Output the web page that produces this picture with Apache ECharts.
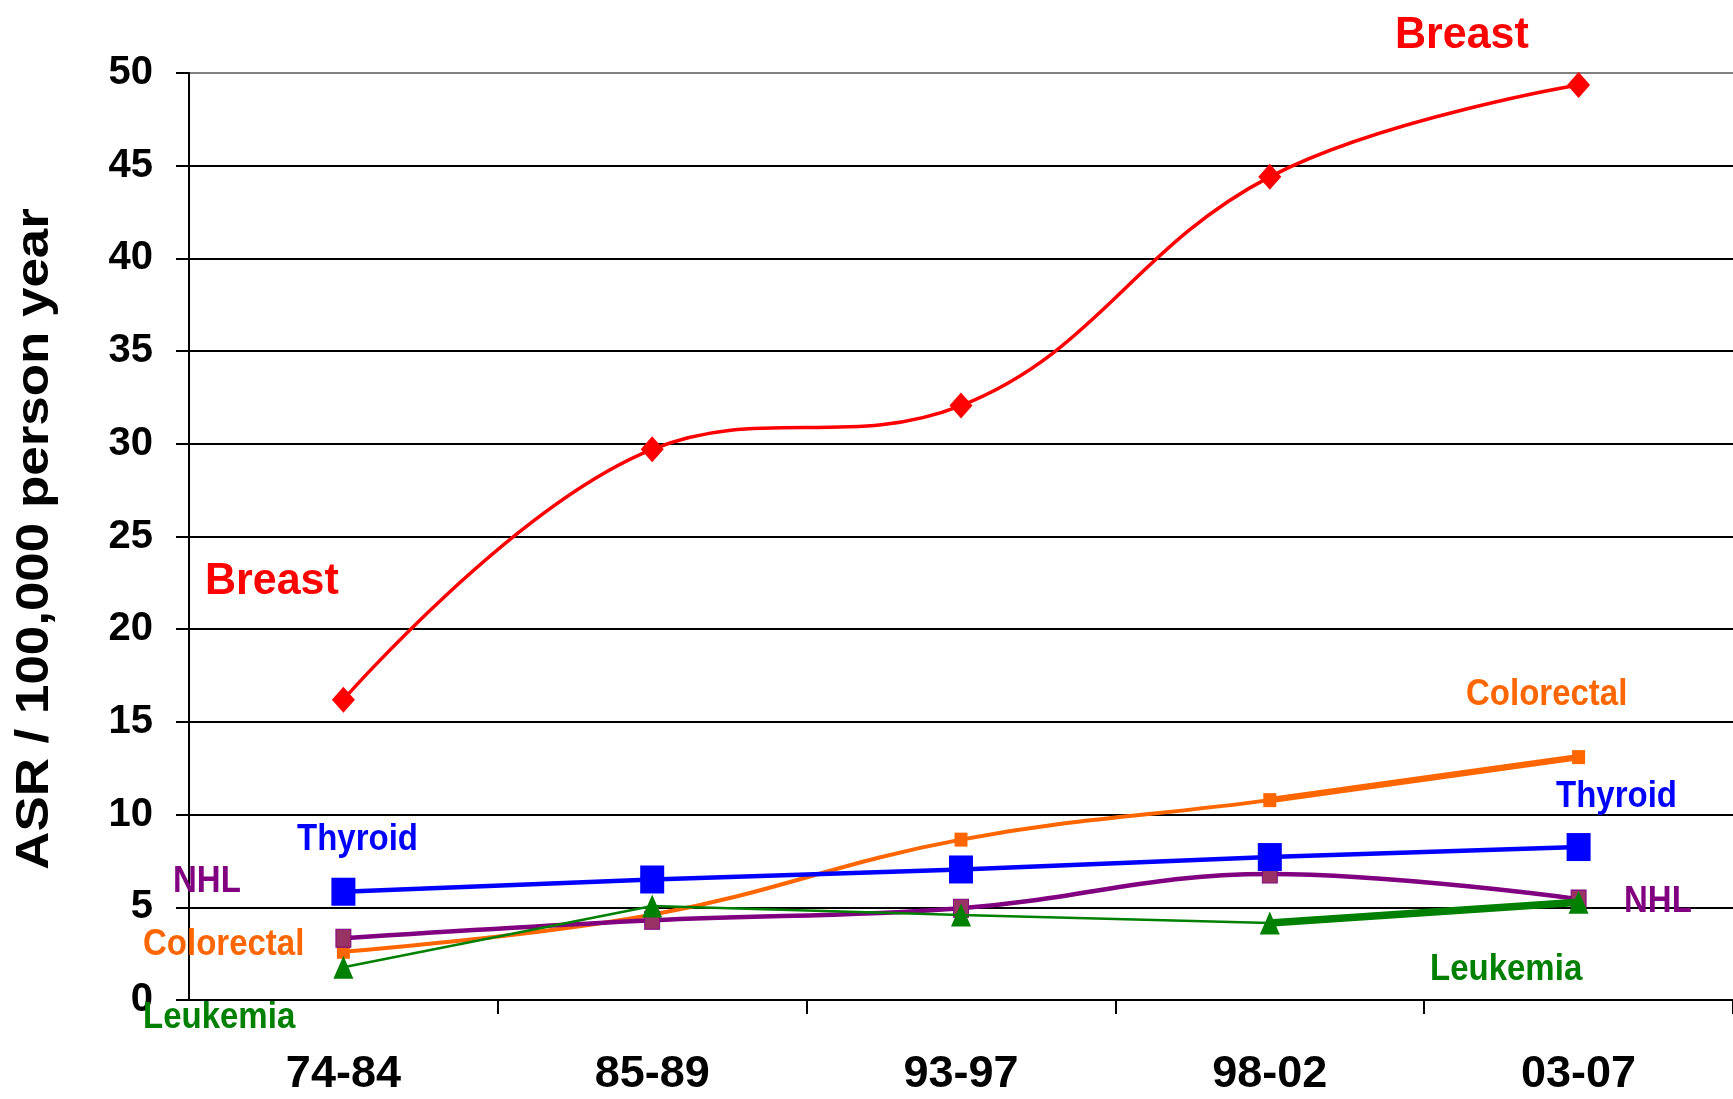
<!DOCTYPE html>
<html>
<head>
<meta charset="utf-8">
<title>ASR trends by cancer site</title>
<script src="https://cdn.jsdelivr.net/npm/echarts@6/dist/echarts.min.js"></script>
<style>
  html, body { margin: 0; padding: 0; background: #ffffff; }
  #chart { width: 1733px; height: 1099px; }
</style>
</head>
<body>
<div id="chart"></div>
<script>
// Periods and age-standardised rates per 100,000 person-years
const periods = ['74-84', '85-89', '93-97', '98-02', '03-07'];
const breast = [16.2, 29.7, 32.06, 44.4, 49.35];
const colorectal = [2.6, 4.6, 8.65, 10.78, 13.1];
const thyroid = [5.84, 6.5, 7.04, 7.71, 8.25];
const nhl = [3.33, 4.3, 4.95, 6.8, 5.44];
const leukemia = [1.77, 5.07, 4.58, 4.15, 5.27];

// Most recent interval is drawn heavier for these two sites
const lastSegment = (arr) => arr.map((v, i) => (i >= arr.length - 2 ? v : '-'));

const FONT = '"Liberation Sans", Arial, Helvetica, sans-serif';
const COLORS = {
  breast: '#ff0000',
  colorectal: '#ff6600',
  thyroid: '#0000ff',
  nhl: '#800080',
  leukemia: '#008000'
};

const chart = echarts.init(document.getElementById('chart'), null, { renderer: 'canvas' });

function label(text, x, y, color, size, stretch) {
  return {
    type: 'text',
    x: x,
    y: y,
    scaleY: stretch || 1,
    z: 100,
    style: {
      text: text,
      fill: color,
      fontFamily: FONT,
      fontWeight: 'bold',
      fontSize: size,
      align: 'left',
      verticalAlign: 'middle'
    }
  };
}

const gridColors = ['#000000', '#000000', '#000000', '#000000', '#000000', '#000000',
                    '#000000', '#000000', '#000000', '#000000', '#808080'];

chart.setOption({
  backgroundColor: '#ffffff',
  animation: false,
  grid: { left: 189, top: 73, right: -6, bottom: 99, containLabel: false },
  xAxis: {
    type: 'category',
    data: periods,
    boundaryGap: true,
    axisLine: { show: true, lineStyle: { color: '#000000', width: 2 } },
    axisTick: {
      show: true,
      length: 14,
      inside: false,
      interval: (i) => i !== 0,
      lineStyle: { color: '#000000', width: 2 }
    },
    axisLabel: {
      color: '#000000',
      fontFamily: FONT,
      fontWeight: 'bold',
      fontSize: 45,
      margin: 52
    },
    splitLine: { show: false }
  },
  yAxis: {
    type: 'value',
    min: 0,
    max: 50,
    interval: 5,
    axisLine: { show: true, lineStyle: { color: '#000000', width: 2 } },
    axisTick: { show: true, length: 13, inside: false, lineStyle: { color: '#000000', width: 2 } },
    axisLabel: {
      color: '#000000',
      fontFamily: FONT,
      fontWeight: 'bold',
      fontSize: 40,
      margin: 36
    },
    splitLine: { show: true, lineStyle: { color: gridColors, width: 2 } }
  },
  graphic: [
    {
      type: 'text',
      x: 35,
      y: 539,
      rotation: Math.PI / 2,
      scaleX: 1.15,
      style: {
        text: 'ASR / 100,000 person year',
        fill: '#000000',
        fontFamily: FONT,
        fontWeight: 'bold',
        fontSize: 46,
        align: 'center',
        verticalAlign: 'middle'
      }
    },
    label('Breast', 1395, 36, COLORS.breast, 43, 1.04),
    label('Breast', 205, 582, COLORS.breast, 43, 1.04),
    label('Colorectal', 1466, 695, COLORS.colorectal, 33, 1.1),
    label('Thyroid', 1556, 797, COLORS.thyroid, 33, 1.1),
    label('NHL', 1624, 902, COLORS.nhl, 33, 1.1),
    label('Leukemia', 1430, 970, COLORS.leukemia, 33, 1.1),
    label('Thyroid', 297, 840, COLORS.thyroid, 33, 1.1),
    label('NHL', 173, 882, COLORS.nhl, 33, 1.1),
    label('Colorectal', 143, 945, COLORS.colorectal, 33, 1.1),
    label('Leukemia', 143, 1018, COLORS.leukemia, 33, 1.1)
  ],
  series: [
    {
      name: 'Breast',
      type: 'line',
      data: breast,
      smooth: 0.4,
      symbol: 'diamond',
      symbolSize: [23, 26],
      lineStyle: { color: COLORS.breast, width: 3.5 },
      itemStyle: { color: COLORS.breast },
      z: 2
    },
    {
      name: 'Colorectal heavy',
      type: 'line',
      data: lastSegment(colorectal),
      showSymbol: false,
      lineStyle: { color: COLORS.colorectal, width: 6.5 },
      itemStyle: { color: COLORS.colorectal },
      z: 2
    },
    {
      name: 'Colorectal',
      type: 'line',
      data: colorectal,
      smooth: 0.4,
      symbol: 'rect',
      symbolSize: [13, 14],
      lineStyle: { color: COLORS.colorectal, width: 4 },
      itemStyle: { color: COLORS.colorectal },
      z: 3
    },
    {
      name: 'NHL',
      type: 'line',
      data: nhl,
      smooth: 0.4,
      symbol: 'rect',
      symbolSize: [15, 18],
      lineStyle: { color: COLORS.nhl, width: 4.5 },
      itemStyle: { color: '#993366', borderColor: '#800080', borderWidth: 1 },
      z: 4
    },
    {
      name: 'Thyroid',
      type: 'line',
      data: thyroid,
      symbol: 'rect',
      symbolSize: [24, 28],
      lineStyle: { color: COLORS.thyroid, width: 4.5 },
      itemStyle: { color: COLORS.thyroid },
      z: 5
    },
    {
      name: 'Leukemia heavy',
      type: 'line',
      data: lastSegment(leukemia),
      showSymbol: false,
      lineStyle: { color: COLORS.leukemia, width: 7.5 },
      itemStyle: { color: COLORS.leukemia },
      z: 6
    },
    {
      name: 'Leukemia',
      type: 'line',
      data: leukemia,
      symbol: 'triangle',
      symbolSize: [20, 23],
      lineStyle: { color: COLORS.leukemia, width: 2.5 },
      itemStyle: { color: COLORS.leukemia },
      z: 7
    }
  ]
});
</script>
</body>
</html>
